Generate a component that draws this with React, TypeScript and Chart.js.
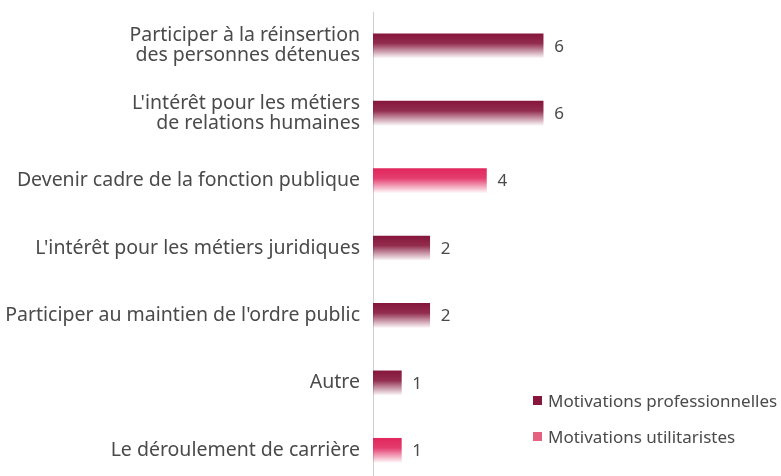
import React, { useEffect, useRef } from "react";
import { Chart, registerables } from "chart.js";
Chart.register(...registerables);

const categories: (string | string[])[] = [
  ["Participer à la réinsertion", "des personnes détenues"],
  ["L'intérêt pour les métiers", "de relations humaines"],
  "Devenir cadre de la fonction publique",
  "L'intérêt pour les métiers juridiques",
  "Participer au maintien de l'ordre public",
  "Autre",
  "Le déroulement de carrière",
];
const professionnelles: (number | null)[] = [6, 6, null, 2, 2, 1, null];
const utilitaristes: (number | null)[] = [null, null, 4, null, null, null, 1];
const seriesNames = ["Motivations professionnelles", "Motivations utilitaristes"];

const FONT = "'Noto Sans', sans-serif";
const TEXT = "#4a4a4a";
const PROF = [134, 22, 59];
const UTIL = [225, 39, 94];

function gradFor(rgb: number[]) {
  return (ctx: any) => {
    const chart = ctx.chart;
    const y = chart.scales?.y;
    if (!chart.chartArea || !y || ctx.dataIndex === undefined) return `rgb(${rgb.join(",")})`;
    const c = y.getPixelForValue(ctx.dataIndex);
    const g = chart.ctx.createLinearGradient(0, c - 12, 0, c + 12);
    g.addColorStop(0, `rgba(${rgb.join(",")},1)`);
    g.addColorStop(0.4, `rgba(${rgb.join(",")},0.9)`);
    g.addColorStop(1, `rgba(${rgb.join(",")},0.05)`);
    return g;
  };
}

const valueLabels = {
  id: "valueLabels",
  afterDatasetsDraw(chart: any) {
    const ctx = chart.ctx;
    ctx.save();
    ctx.font = `17px ${FONT}`;
    ctx.fillStyle = TEXT;
    ctx.textBaseline = "middle";
    ctx.textAlign = "left";
    chart.data.datasets.forEach((ds: any, i: number) => {
      const meta = chart.getDatasetMeta(i);
      meta.data.forEach((el: any, j: number) => {
        const v = ds.data[j];
        if (v == null) return;
        ctx.fillText(String(v), el.x + 11, el.y + 1);
      });
    });
    ctx.restore();
  },
};

export default function App() {
  const ref = useRef<HTMLCanvasElement>(null);
  useEffect(() => {
    const chart = new Chart(ref.current!, {
      type: "bar",
      data: {
        labels: categories,
        datasets: [
          { label: seriesNames[0], data: professionnelles, backgroundColor: gradFor(PROF), barThickness: 24 },
          { label: seriesNames[1], data: utilitaristes, backgroundColor: gradFor(UTIL), barThickness: 24 },
        ],
      },
      options: {
        indexAxis: "y",
        animation: false,
        responsive: false,
        layout: { padding: { top: 12, bottom: 36, right: 11, left: 0 } },
        plugins: { legend: { display: false }, tooltip: { enabled: false } },
        scales: {
          x: { display: false, min: 0, max: 14, stacked: true },
          y: {
            stacked: true,
            grid: { display: false, drawTicks: false },
            border: { display: true, color: "#d0d0d0", width: 1 },
            ticks: { color: TEXT, font: { family: FONT, size: 19.5, lineHeight: 1.03 }, padding: 13 },
            afterFit: (s: any) => { s.width = 373; s.paddingTop = 0; s.paddingBottom = 0; },
          },
        },
      },
      plugins: [valueLabels],
    });
    return () => chart.destroy();
  }, []);
  const legendItem = (color: string, text: string, top: number) => (
    <div style={{ position: "absolute", left: 533, top, display: "flex", alignItems: "center", font: `17px ${FONT}`, color: TEXT, whiteSpace: "nowrap" }}>
      <span style={{ width: 9, height: 9, background: color, display: "inline-block", marginRight: 6 }} />
      {text}
    </div>
  );
  return (
    <div style={{ position: "absolute", left: 0, top: 0, width: 781, height: 476, overflow: "hidden", background: "#fff" }}>
      <canvas ref={ref} width={781} height={520} style={{ position: "absolute", left: 0, top: 0 }} />
      {legendItem("#86163B", seriesNames[0], 389)}
      {legendItem("#E4617F", seriesNames[1], 425)}
    </div>
  );
}
